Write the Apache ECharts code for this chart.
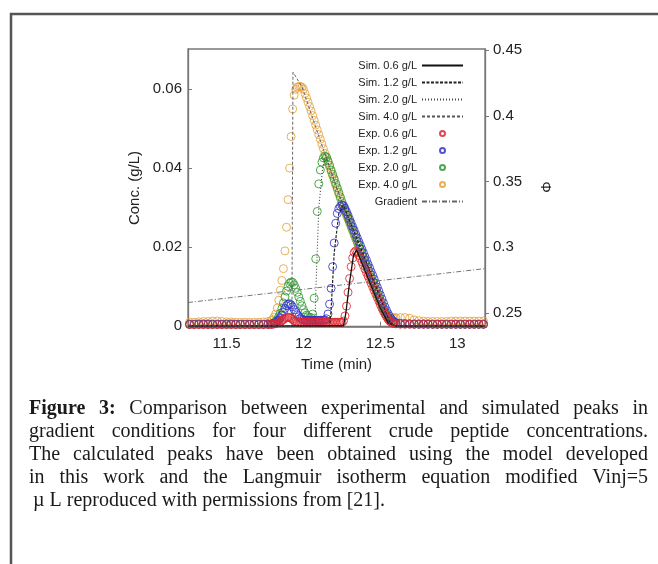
<!DOCTYPE html>
<html><head><meta charset="utf-8">
<script src="https://cdn.jsdelivr.net/npm/echarts@6/dist/echarts.min.js"></script>
<style>html,body{margin:0;padding:0;background:#fff}#c{width:658px;height:564px}</style>
</head><body><div id="c"></div>
<script>
// ---------- DATA ----------
const xTicks = [11.5, 12, 12.5, 13];
const yTicks = [0, 0.02, 0.04, 0.06];
const y2Ticks = [0.25, 0.3, 0.35, 0.4, 0.45];

const expTime = [
  11.26,11.29,11.32,11.35,11.38,11.41,11.44,11.47,11.50,11.53,11.56,11.59,11.62,11.65,11.68,11.71,11.74,11.77,
  11.79,11.80,11.81,11.82,11.83,11.84,11.85,11.86,11.87,11.88,11.89,11.90,11.91,11.92,11.93,11.94,11.95,11.96,11.97,11.98,11.99,
  12.00,12.01,12.02,12.03,12.04,12.05,12.06,12.07,12.08,12.09,12.10,12.11,12.12,12.13,12.14,12.15,12.16,12.17,12.18,12.19,
  12.20,12.21,12.22,12.23,12.24,12.25,12.26,12.27,12.28,12.29,12.30,12.31,12.32,12.33,12.34,12.35,12.36,12.37,12.38,12.39,
  12.40,12.41,12.42,12.43,12.44,12.45,12.46,12.47,12.48,12.49,12.50,12.51,12.52,12.53,12.54,12.55,12.56,12.57,12.58,12.59,12.60,
  12.63,12.66,12.69,12.72,12.75,12.78,12.81,12.84,12.87,12.90,12.93,12.96,12.99,13.02,13.05,13.08,13.11,13.14,13.17
];

const exp40 = [
  0.0009,0.0009,0.0010,0.0011,0.0011,0.0012,0.0012,0.0011,0.0010,0.0010,0.0009,0.0009,0.0009,0.0009,0.0009,0.0009,0.0010,0.0011,
  0.0013,0.0016,0.0022,0.0030,0.0045,0.0065,0.0090,0.0115,0.0145,0.0190,0.0250,0.0320,0.0400,0.0480,0.0550,0.0585,0.0600,0.0605,0.0607,0.0607,0.0605,
  0.0600,0.0589,0.0578,0.0567,0.0556,0.0545,0.0533,0.0521,0.0509,0.0497,0.0485,0.0473,0.0461,0.0449,0.0437,0.0426,0.0414,0.0403,0.0391,0.0380,
  0.0369,0.0357,0.0346,0.0334,0.0323,0.0311,0.0300,0.0290,0.0280,0.0270,0.0260,0.0250,0.0240,0.0230,0.0220,0.0210,0.0200,0.0190,0.0180,0.0170,
  0.0160,0.0150,0.0140,0.0130,0.0120,0.0110,0.0100,0.0090,0.0080,0.0070,0.0060,0.0050,0.0041,0.0033,0.0027,0.0022,0.0020,0.0019,0.0020,0.0020,0.0021,
  0.0021,0.0021,0.0019,0.0015,0.0013,0.0012,0.0011,0.0011,0.0011,0.0011,0.0011,0.0012,0.0012,0.0012,0.0012,0.0012,0.0012,0.0012,0.0012
];

const exp20 = [
  0.0004,0.0004,0.0005,0.0005,0.0005,0.0004,0.0004,0.0004,0.0005,0.0005,0.0004,0.0004,0.0004,0.0004,0.0004,0.0004,0.0004,0.0005,
  0.0005,0.0006,0.0008,0.0011,0.0016,0.0023,0.0032,0.0044,0.0058,0.0073,0.0088,0.0100,0.0108,0.0111,0.0110,0.0104,0.0095,0.0085,0.0073,0.0062,0.0051,
  0.0041,0.0033,0.0027,0.0023,0.0021,0.0021,0.0030,0.0070,0.0170,0.0290,0.0360,0.0395,0.0415,0.0426,0.0430,0.0428,0.0418,0.0407,0.0395,0.0384,
  0.0373,0.0361,0.0350,0.0338,0.0327,0.0315,0.0304,0.0294,0.0284,0.0274,0.0264,0.0254,0.0244,0.0234,0.0224,0.0214,0.0204,0.0194,0.0184,0.0174,
  0.0164,0.0154,0.0144,0.0134,0.0124,0.0114,0.0104,0.0094,0.0084,0.0074,0.0064,0.0054,0.0045,0.0036,0.0028,0.0021,0.0016,0.0012,0.0009,0.0008,0.0007,
  0.0006,0.0006,0.0005,0.0005,0.0005,0.0005,0.0005,0.0004,0.0004,0.0004,0.0004,0.0004,0.0004,0.0004,0.0004,0.0004,0.0004,0.0004,0.0004
];

const exp12 = [
  0.0004,0.0004,0.0004,0.0004,0.0004,0.0004,0.0004,0.0004,0.0004,0.0004,0.0004,0.0004,0.0004,0.0004,0.0004,0.0004,0.0004,0.0004,
  0.0004,0.0005,0.0006,0.0008,0.0011,0.0015,0.0020,0.0027,0.0035,0.0044,0.0051,0.0055,0.0056,0.0053,0.0048,0.0041,0.0034,0.0028,0.0023,0.0019,0.0017,
  0.0015,0.0014,0.0014,0.0014,0.0014,0.0014,0.0014,0.0014,0.0014,0.0014,0.0014,0.0014,0.0014,0.0014,0.0015,0.0018,0.0030,0.0055,0.0095,0.0150,
  0.0210,0.0260,0.0285,0.0297,0.0303,0.0306,0.0305,0.0298,0.0289,0.0280,0.0270,0.0261,0.0251,0.0242,0.0232,0.0223,0.0213,0.0204,0.0194,0.0185,
  0.0175,0.0166,0.0156,0.0147,0.0137,0.0128,0.0118,0.0108,0.0098,0.0088,0.0078,0.0068,0.0058,0.0048,0.0039,0.0031,0.0024,0.0018,0.0013,0.0010,0.0008,
  0.0006,0.0005,0.0005,0.0004,0.0004,0.0004,0.0004,0.0004,0.0004,0.0004,0.0004,0.0004,0.0004,0.0004,0.0004,0.0004,0.0004,0.0004,0.0004
];

const exp06 = [
  0.0003,0.0003,0.0003,0.0003,0.0003,0.0003,0.0003,0.0003,0.0003,0.0003,0.0003,0.0003,0.0003,0.0003,0.0003,0.0003,0.0003,0.0003,
  0.0004,0.0004,0.0005,0.0006,0.0007,0.0008,0.0010,0.0013,0.0016,0.0019,0.0021,0.0022,0.0021,0.0019,0.0016,0.0013,0.0011,0.0010,0.0009,0.0009,0.0009,
  0.0009,0.0009,0.0009,0.0009,0.0009,0.0009,0.0009,0.0009,0.0009,0.0009,0.0009,0.0009,0.0009,0.0009,0.0009,0.0009,0.0009,0.0009,0.0009,0.0009,
  0.0009,0.0009,0.0009,0.0009,0.0009,0.0009,0.0012,0.0025,0.0050,0.0085,0.0120,0.0150,0.0172,0.0186,0.0190,0.0186,0.0179,0.0171,0.0162,0.0153,
  0.0144,0.0135,0.0126,0.0117,0.0108,0.0099,0.0090,0.0081,0.0072,0.0063,0.0054,0.0045,0.0037,0.0030,0.0023,0.0017,0.0012,0.0009,0.0007,0.0006,0.0005,
  0.0004,0.0004,0.0004,0.0004,0.0004,0.0004,0.0004,0.0004,0.0004,0.0004,0.0004,0.0004,0.0004,0.0004,0.0004,0.0004,0.0004,0.0004,0.0004
];

const sim06 = [[11.25,0],[12.26,0],[12.275,0.003],[12.30,0.011],[12.325,0.0178],[12.345,0.0193],[12.40,0.0140],[12.50,0.0045],[12.55,0.0008],[12.60,0],[13.18,0]];
const sim12 = [[11.25,0],[12.17,0],[12.18,0.004],[12.20,0.0185],[12.23,0.0285],[12.26,0.0306],[12.40,0.0170],[12.50,0.0070],[12.56,0.0010],[12.60,0],[13.18,0]];
const sim20 = [[11.25,0],[12.075,0],[12.08,0.008],[12.10,0.030],[12.125,0.040],[12.143,0.0432],[12.26,0.0302],[12.50,0.0055],[12.56,0.0008],[12.60,0],[13.18,0]];
const sim40 = [[11.25,0],[11.925,0],[11.932,0.0643],[11.99,0.0607],[12.14,0.0435],[12.26,0.0301],[12.50,0.0050],[12.56,0.0006],[12.60,0],[13.18,0]];
const gradientLine = [[11.25,0.258],[13.18,0.2838]];

const seriesNames = ['Sim. 0.6 g/L','Sim. 1.2 g/L','Sim. 2.0 g/L','Sim. 4.0 g/L','Exp. 0.6 g/L','Exp. 1.2 g/L','Exp. 2.0 g/L','Exp. 4.0 g/L','Gradient'];

const captionLines = [
  'Figure 3: Comparison between experimental and simulated peaks in',
  'gradient conditions for four different crude peptide concentrations.',
  'The calculated peaks have been obtained using the model developed',
  'in this work and the Langmuir isotherm equation modified Vinj=5',
  '\u00b5 L reproduced with permissions from [21].'
];

// ---------- CHART ----------
function pairs(t, v) { return t.map((x, i) => [x, v[i]]); }

const sansFont = '"Liberation Sans", Arial, Helvetica, sans-serif';

function expSeries(name, values, color, z) {
  return {
    name, type: 'scatter', data: pairs(expTime, values), symbol: 'circle', symbolSize: 8,
    itemStyle: { color: 'rgba(255,255,255,0)', borderColor: color, borderWidth: 1, opacity: 0.85 },
    z, silent: true
  };
}
function simSeries(name, data, lineStyle) {
  return { name, type: 'line', data, showSymbol: false, symbol: 'none', lineStyle, z: 10, silent: true };
}

function captionGraphics() {
  const ctx = document.createElement('canvas').getContext('2d');
  const fam = '"Liberation Serif", "Times New Roman", serif';
  const size = 20;
  const left = 29, right = 648, top0 = 409, lh = 23;
  const els = [];
  captionLines.forEach((line, li) => {
    const y = top0 + li * lh;
    const words = line.split(' ');
    const weights = words.map((w, wi) => (li === 0 && wi < 2) ? 'bold' : 'normal');
    const widths = words.map((w, wi) => { ctx.font = `${weights[wi]} ${size}px ${fam}`; return ctx.measureText(w).width; });
    const sum = widths.reduce((a, b) => a + b, 0);
    const last = li === captionLines.length - 1;
    ctx.font = `normal ${size}px ${fam}`;
    const gap = last ? ctx.measureText(' ').width : (right - left - sum) / (words.length - 1);
    let x = left + (last ? 4 : 0);
    words.forEach((w, wi) => {
      els.push({ type: 'text', x, y, silent: true,
        style: { text: w, fontSize: size, fontFamily: fam, fontWeight: weights[wi], fill: '#1a1a1a', verticalAlign: 'middle', align: 'left' } });
      x += widths[wi] + gap;
    });
  });
  return els;
}

const legendData = seriesNames.map(n => n.startsWith('Exp') ? { name: n } : { name: n, itemStyle: { opacity: 0 } });

const chart = echarts.init(document.getElementById('c'), null, { renderer: 'canvas' });
chart.setOption({
  animation: false,
  backgroundColor: '#fff',
  grid: { left: 188, right: 173, top: 49, bottom: 237, show: true, borderColor: '#777', borderWidth: 1.3, containLabel: false },
  legend: {
    orient: 'vertical', left: 355, top: 60, padding: 0, itemGap: 6, itemWidth: 41, itemHeight: 5, align: 'right',
    selectedMode: false,
    textStyle: { fontSize: 11, fontFamily: sansFont, color: '#222', width: 62, lineHeight: 10 },
    data: legendData
  },
  xAxis: {
    type: 'value', min: 11.25, max: 13.18,
    name: 'Time (min)', nameLocation: 'middle', nameGap: 30,
    nameTextStyle: { fontSize: 15, fontFamily: sansFont, color: '#222' },
    axisLine: { show: true, lineStyle: { color: '#777', width: 1.3 } },
    axisTick: { show: true, inside: true, length: 4, customValues: xTicks, lineStyle: { color: '#777' } },
    axisLabel: { customValues: xTicks, fontSize: 15, fontFamily: sansFont, color: '#222', margin: 9 },
    splitLine: { show: false }
  },
  yAxis: [{
    type: 'value', min: -0.0003, max: 0.0702, position: 'left',
    name: 'Conc. (g/L)', nameLocation: 'middle', nameGap: 46, nameRotate: 90,
    nameTextStyle: { fontSize: 15, fontFamily: sansFont, color: '#222' },
    axisLine: { show: true, lineStyle: { color: '#777', width: 1.3 } },
    axisTick: { show: true, inside: true, length: 4, customValues: yTicks, lineStyle: { color: '#777' } },
    axisLabel: { customValues: yTicks, fontSize: 15, fontFamily: sansFont, color: '#222', margin: 6 },
    splitLine: { show: false }
  }, {
    type: 'value', min: 0.2394, max: 0.4508, position: 'right',
    axisLine: { show: true, lineStyle: { color: '#777', width: 1.3 } },
    axisTick: { show: true, inside: false, length: 4, customValues: y2Ticks, lineStyle: { color: '#777' } },
    axisLabel: { customValues: y2Ticks, fontSize: 15, fontFamily: sansFont, color: '#222', margin: 8 },
    splitLine: { show: false }
  }],
  graphic: [
    { type: 'rect', shape: { x: 11, y: 14, width: 700, height: 620 }, style: { fill: 'none', stroke: '#555', lineWidth: 2.5 }, silent: true, z: 100 },
    { type: 'text', x: 545, y: 187, rotation: -Math.PI / 2, silent: true,
      style: { text: '\u03A6', fontSize: 14, fontFamily: sansFont, fill: '#222', align: 'center', verticalAlign: 'middle' } },
    ...captionGraphics()
  ],
  series: [
    expSeries('Exp. 4.0 g/L', exp40, '#e5a23c', 2),
    expSeries('Exp. 2.0 g/L', exp20, '#2f9a2f', 3),
    expSeries('Exp. 1.2 g/L', exp12, '#3434cc', 4),
    expSeries('Exp. 0.6 g/L', exp06, '#e0262e', 5),
    simSeries('Sim. 0.6 g/L', sim06, { color: '#111', width: 1.3, type: 'solid' }),
    simSeries('Sim. 1.2 g/L', sim12, { color: '#222', width: 1.2, type: [3, 1.5] }),
    simSeries('Sim. 2.0 g/L', sim20, { color: '#444', width: 1.1, type: [1, 2] }),
    simSeries('Sim. 4.0 g/L', sim40, { color: '#555', width: 0.9, type: [3, 2] }),
    { name: 'Gradient', type: 'line', yAxisIndex: 1, data: gradientLine, showSymbol: false, symbol: 'none',
      lineStyle: { color: '#666', width: 0.9, type: [5, 2, 1, 2] }, z: 9, silent: true }
  ]
});
</script>
</body></html>
